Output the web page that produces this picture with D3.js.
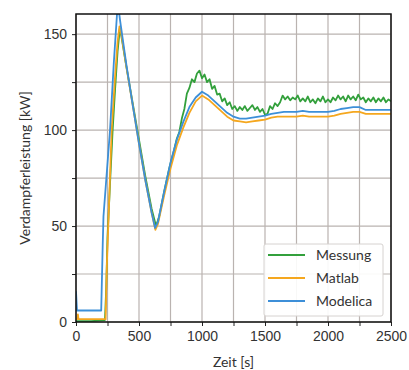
<!DOCTYPE html>
<html lang="de">
<head>
<meta charset="UTF-8">
<title>Verdampferleistung</title>
<script src="https://d3js.org/d3.v7.min.js"></script>
<style>
body { margin: 0; background: #fff; }
svg { display: block; font-family: Lato, "Open Sans", sans-serif; }
.grid line { stroke: #bab3b0; stroke-width: 1.2; }
.axis text { fill: #333; font-size: 14px; }
.axis line { stroke: #222; }
.axis path { display: none; }
</style>
</head>
<body>
<svg id="chart" width="409" height="370"></svg>
<script>
// x tick values (grid every 250 s, labels every 500 s)
const xTicks = d3.range(0, 2501, 250);
const yTicks = d3.range(0, 151, 25);

const seriesNames = ["Messung", "Matlab", "Modelica"];
const seriesColors = ["#33a03c", "#f5a71e", "#3d8fd8"];

// Messung [t, kW]
const messung = [
  [0,0.5],[120,0.5],[230,1],[240,18],[250,44],[270,72],[290,99],[310,121],[330,141],[348,153],[360,149],
  [400,133],[450,114],[500,95],[550,76],[600,59],[635,50],[660,55],[700,68],[740,80],[780,90],
  [800,95.5],[820,99],[840,106],[860,111],[880,119],[900,122],[920,126.5],[940,125],[960,129.5],[980,131],
  [1000,127],[1020,129],[1040,125],[1060,126.5],[1080,121.5],[1100,123],[1120,118.5],[1140,119],[1160,115],[1180,116.5],
  [1200,113],[1220,114.5],[1240,111],[1260,112.5],[1280,110],[1300,112],[1320,110.5],[1340,112.5],[1360,110],[1380,111.5],
  [1400,113],[1420,110.5],[1440,112],[1460,109.5],[1480,111],[1500,108],[1520,108.5],[1540,112.5],[1560,111],[1580,114],
  [1600,112.5],[1620,114.5],[1640,118],[1660,116],[1680,117.5],[1700,115.5],[1720,117],[1740,116],[1760,118],[1780,115],
  [1800,116.5],[1820,115],[1840,117.5],[1860,114.5],[1880,116],[1900,114],[1920,116.5],[1940,115],[1960,117.5],[1980,114.5],
  [2000,116],[2020,114.5],[2040,117],[2060,115.5],[2080,118],[2100,116],[2120,117.5],[2140,115],[2160,118],[2180,116],
  [2200,117.5],[2220,115.5],[2240,118.5],[2260,116],[2280,117],[2300,114.5],[2320,116.5],[2340,115],[2360,117],[2380,114.5],
  [2400,116.5],[2420,115],[2440,117],[2460,114.5],[2480,116],[2500,115]
];

// Matlab [t, kW]
const matlab = [
  [0,1.5],[10,1.5],[15,4],[20,1.5],[235,1.5],[245,30],[255,48],[283,100],[310,128],[330,146],[345,154],[360,150],
  [400,133],[450,113],[500,93],[550,74],[600,57],[630,48],[650,51],[700,66],[750,80],[800,92],[850,101],
  [900,109],[950,115],[1000,118],[1050,116],[1100,113],[1150,110],[1200,107],[1250,105],[1300,104.5],[1350,104],
  [1400,104.5],[1450,105],[1500,105.5],[1550,106.5],[1600,107],[1650,107],[1700,107],[1750,107],[1800,107.5],
  [1850,107],[1900,107],[1950,107],[2000,107],[2050,107.5],[2100,108.5],[2150,109],[2200,109.5],[2250,109.5],
  [2300,108.5],[2350,108.5],[2400,108.5],[2450,108.5],[2500,108.5]
];

// Modelica [t, kW]
const modelica = [
  [0,16],[8,6],[200,6],[212,40],[218,55],[270,100],[300,135],[325,160],[335,165],[350,157],
  [400,134],[450,113],[500,93],[550,74],[600,57],[628,49],[650,52],[700,68],[750,83],[800,95],[850,104],
  [900,112],[950,117],[1000,120],[1050,118],[1100,115],[1150,112],[1200,109],[1250,107],[1300,106],[1350,106],
  [1400,106.5],[1450,107],[1500,107.5],[1550,108.5],[1600,109],[1650,109.5],[1700,109.5],[1750,109.5],[1800,110],
  [1850,109.5],[1900,109.5],[1950,109.5],[2000,109.5],[2050,110],[2100,111],[2150,111.5],[2200,112],[2250,112],
  [2300,110.5],[2350,110.5],[2400,110.5],[2450,110.5],[2500,110.5]
];

const allSeries = [messung, matlab, modelica];

const width = 409, height = 370;
const margin = { top: 14, right: 18, bottom: 48, left: 76 };
const iw = width - margin.left - margin.right;
const ih = height - margin.top - margin.bottom;

const x = d3.scaleLinear().domain([0, 2500]).range([0, iw]);
const y = d3.scaleLinear().domain([0, 160.5]).range([ih, 0]);

const svg = d3.select("#chart");
const g = svg.append("g").attr("transform", `translate(${margin.left},${margin.top})`);

g.append("clipPath").attr("id", "clip")
  .append("rect").attr("width", iw).attr("height", ih);

// grid
const grid = g.append("g").attr("class", "grid");
grid.selectAll(".gx").data(xTicks).join("line")
  .attr("x1", d => x(d)).attr("x2", d => x(d))
  .attr("y1", 0).attr("y2", ih);
grid.selectAll(".gy").data(yTicks).join("line")
  .attr("y1", d => y(d)).attr("y2", d => y(d))
  .attr("x1", 0).attr("x2", iw);

// lines
const line = d3.line().x(d => x(d[0])).y(d => y(d[1]));
g.append("g").attr("clip-path", "url(#clip)")
  .selectAll("path").data(allSeries).join("path")
  .attr("fill", "none")
  .attr("stroke", (d, i) => seriesColors[i])
  .attr("stroke-width", 1.8)
  .attr("stroke-linejoin", "round")
  .attr("d", line);

// axes
g.append("g").attr("class", "axis")
  .attr("transform", `translate(0,${ih})`)
  .call(d3.axisBottom(x).tickValues(xTicks).tickSize(4).tickPadding(5)
    .tickFormat(d => d % 500 === 0 ? d : ""));
g.append("g").attr("class", "axis")
  .call(d3.axisLeft(y).tickValues(yTicks).tickSize(4).tickPadding(5)
    .tickFormat(d => d % 50 === 0 ? d : ""));

// frame
g.append("rect").attr("width", iw).attr("height", ih)
  .attr("fill", "none").attr("stroke", "#111").attr("stroke-width", 1.5);

// axis labels
svg.append("text")
  .attr("x", margin.left + iw / 2).attr("y", 367)
  .attr("text-anchor", "middle").attr("fill", "#333").attr("font-size", 14)
  .text("Zeit [s]");
svg.append("text")
  .attr("transform", `translate(30,${margin.top + ih / 2}) rotate(-90)`)
  .attr("text-anchor", "middle").attr("fill", "#333").attr("font-size", 14)
  .text("Verdampferleistung [kW]");

// legend
const lg = svg.append("g").attr("transform", "translate(264,244)");
lg.append("rect").attr("width", 119).attr("height", 72)
  .attr("fill", "#fff").attr("fill-opacity", 0.9)
  .attr("stroke", "#d6d2d0").attr("rx", 2);
seriesNames.forEach((name, i) => {
  const yy = 11 + i * 23;
  lg.append("line").attr("x1", 4).attr("x2", 41).attr("y1", yy).attr("y2", yy)
    .attr("stroke", seriesColors[i]).attr("stroke-width", 1.8);
  lg.append("text").attr("x", 52).attr("y", yy).attr("dy", "0.35em")
    .attr("fill", "#333").attr("font-size", 14).text(name);
});
</script>
</body>
</html>
